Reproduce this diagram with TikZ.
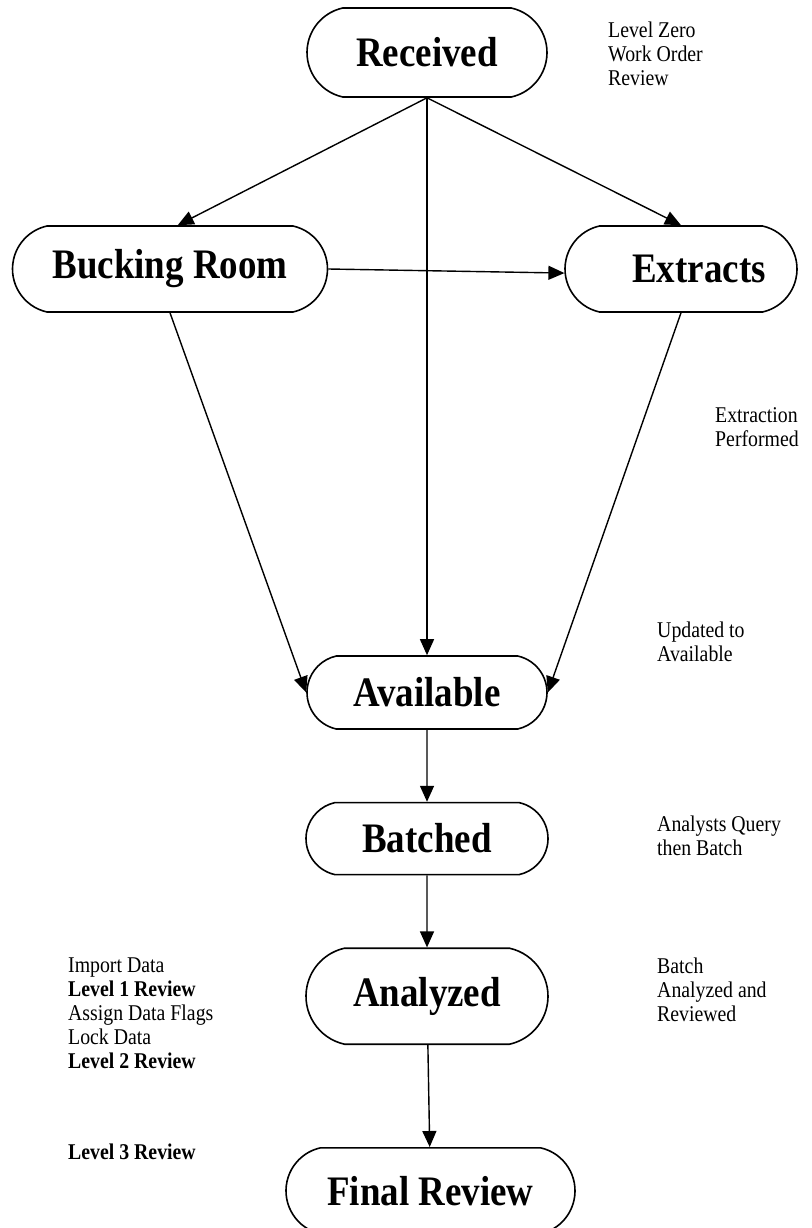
\documentclass[tikz,border=0pt]{standalone}
\usepackage{fontspec}
\setmainfont{Liberation Serif}[FakeStretch=0.88]
\usepackage{tikz}
\usetikzlibrary{arrows.meta,positioning,shapes.misc}

\begin{document}
\begin{tikzpicture}[x=1pt,y=-1pt,
stage/.style={draw,line width=1.6pt,rounded rectangle,rounded rectangle arc length=155,inner sep=0pt,font=\fontsize{42}{42}\selectfont\bfseries},
note/.style={anchor=north west,inner sep=0pt,align=left,font=\fontsize{22.5}{24}\selectfont},
arr/.style={-{Triangle[length=16pt,width=14pt]},line width=1.4pt}]
\useasboundingbox (0,0) rectangle (811,1228);
\node[stage,minimum width=240pt,minimum height=89pt] (rcv) at (427,52.5) {Received};
\node[stage,minimum width=315pt,minimum height=86pt] (bck) at (170,269) {Bucking Room};
\node[stage,minimum width=232pt,minimum height=86pt] (ext) at (681,269) {\hspace*{36pt}Extracts};
\node[stage,minimum width=240pt,minimum height=73pt] (avl) at (427,692.5) {Available};
\node[stage,minimum width=242pt,minimum height=72pt,below=72pt of avl] (bat) {Batched};
\node[stage,minimum width=242pt,minimum height=96pt,below=72pt of bat] (ana) {Analyzed};
\node[stage,minimum width=289pt,minimum height=86pt,below=102pt of ana,xshift=3.5pt] (fin) {Final Review};
\node[note] (n0) at (608,22) {Level Zero\\Work Order\\Review};
\node[note] (n1) at (715,407) {Extraction\\Performed};
\node[note] (n2) at (657,622) {Updated to\\Available};
\node[note] (n3) at (657,816) {Analysts Query\\then Batch};
\node[note] (n4) at (657,958) {Batch\\Analyzed and\\Reviewed};
\node[note] (n5) at (68,958) {Import Data\\\textbf{Level 1 Review}\\Assign Data Flags\\Lock Data\\\textbf{Level 2 Review}};
\node[note] (n6) at (68,1144) {\textbf{Level 3 Review}};
\draw[arr] (rcv.south)--(bck.80); \draw[arr] (rcv.south)--(ext.north); \draw[arr] (rcv.south)--(avl.north);
\draw[arr] (bck.east)--(ext.182);
\draw[arr] (bck.south)--(avl.west); \draw[arr] (ext.south)--(avl.east);
\draw[arr] (avl)--(bat); \draw[arr] (bat)--(ana); \draw[arr] (ana)--(fin);
\end{tikzpicture}
\end{document}
